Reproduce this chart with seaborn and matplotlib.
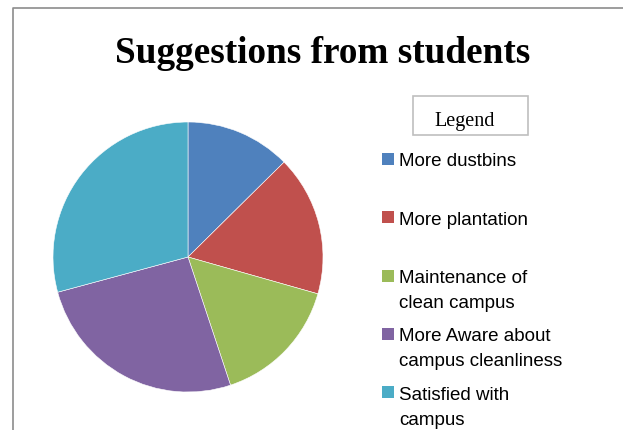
import matplotlib
matplotlib.use("Agg")
import matplotlib.pyplot as plt
import seaborn as sns
from matplotlib.lines import Line2D
from matplotlib.patches import Rectangle

categories = ["More dustbins", "More plantation", "Maintenance of\nclean campus",
              "More Aware about\ncampus cleanliness", "Satisfied with\ncampus"]
values = [12.6, 16.8, 15.5, 25.9, 29.2]
colors = ["#4F81BD", "#C0504D", "#9BBB59", "#8064A2", "#4BACC6"]
title = "Suggestions from students"

sns.set_theme(style="white")
palette = sns.color_palette(colors)

W, H = 623, 431
fig = plt.figure(figsize=(W / 100, H / 100), dpi=100)

def fx(x):
    return x / W

def fy(y):
    return 1 - y / H

# pie axes: center (188,258), radius 135 px
cx, cy, r = 188, 258, 135
ax = fig.add_axes([fx(cx - r), fy(cy + r), 2 * r / W, 2 * r / H])
ax.pie(values, colors=palette, startangle=90, counterclock=False, radius=1,
       wedgeprops=dict(edgecolor="white", linewidth=0.4))
ax.set_xlim(-1, 1)
ax.set_ylim(-1, 1)
ax.set_aspect("equal")
ax.axis("off")

# frame lines
fig.add_artist(Line2D([fx(13), fx(13), fx(623)], [fy(431), fy(8.5), fy(8.5)],
                      transform=fig.transFigure, color="#8C8C8C", linewidth=1.2))

# title
fig.text(fx(323), fy(63), title, ha="center", va="baseline",
         fontsize=26.8, fontweight="bold", family="Liberation Serif", color="black")

# legend title box
fig.add_artist(Rectangle((fx(413), fy(136)), fx(528) - fx(413), fy(97) - fy(136),
                         transform=fig.transFigure, fill=False,
                         edgecolor="#BFBFBF", linewidth=1.2))
fig.text(fx(465), fy(126), "Legend", ha="center", va="baseline",
         fontsize=14.5, family="Liberation Serif", color="black")

# legend entries
y0 = 160
step = 58.3
for i, (lab, col) in enumerate(zip(categories, palette)):
    yy = y0 + i * step
    fig.add_artist(Rectangle((fx(382), fy(yy + 6)), fx(394) - fx(382), fy(yy - 6) - fy(yy + 6),
                             transform=fig.transFigure, facecolor=col, edgecolor="none"))
    for k, line in enumerate(lab.split("\n")):
        fig.text(fx(399), fy(yy + k * 25), line, ha="left", va="center_baseline", fontsize=13.5,
                 family="Liberation Sans", color="#000000")

fig.savefig("out.png", dpi=100)
